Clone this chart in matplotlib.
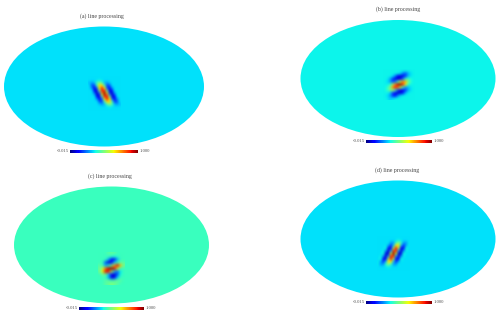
import matplotlib
matplotlib.use("Agg")
import matplotlib.pyplot as plt
from matplotlib.cm import ScalarMappable
from matplotlib.colors import Normalize
from matplotlib.patches import Ellipse

W, H = 501, 322

titles = ["(a) line processing", "(b) line processing",
          "(c) line processing", "(d) line processing"]
low_label = "-0.015"
high_label = "1.000"

# background level of each sky map, on the 0-1 colour scale
background = [0.345, 0.365, 0.42, 0.345]

# sampled values around the wavelet, rows run top to bottom
map_a = [
    [.345, .345, .345, .345, .345, .345, .345, .345, .345, .345, .345, .345, .345],
    [.345, .34, .34, .35, .36, .35, .34, .34, .345, .345, .345, .345, .345],
    [.32, .28, .31, .43, .51, .43, .31, .28, .32, .345, .345, .345, .345],
    [.345, .21, .19, .42, .68, .68, .42, .19, .21, .345, .345, .345, .345],
    [.345, .26, .11, .22, .65, .90, .65, .22, .11, .26, .345, .345, .345],
    [.345, .345, .13, .09, .47, .89, .89, .47, .09, .13, .345, .345, .345],
    [.345, .345, .25, .07, .20, .70, 1.0, .70, .20, .07, .25, .345, .345],
    [.345, .345, .345, .13, .09, .47, .89, .89, .47, .09, .13, .345, .345],
    [.345, .345, .345, .26, .11, .22, .65, .90, .65, .22, .11, .26, .345],
    [.345, .345, .345, .345, .21, .19, .42, .68, .68, .42, .19, .21, .345],
    [.345, .345, .345, .345, .32, .28, .31, .43, .51, .43, .31, .28, .32],
    [.345, .345, .345, .345, .345, .34, .34, .35, .36, .35, .34, .34, .345],
    [.345, .345, .345, .345, .345, .345, .345, .345, .345, .345, .345, .345, .345],
]
map_b = [
    [.365, .365, .365, .365, .365, .365, .365, .365, .365, .365, .365, .365],
    [.365, .365, .365, .365, .365, .365, .34, .25, .215, .30, .35, .365],
    [.365, .365, .365, .35, .26, .125, .075, .10, .19, .31, .355, .365],
    [.365, .36, .31, .19, .10, .075, .105, .25, .41, .425, .375, .365],
    [.365, .35, .30, .21, .24, .42, .595, .77, .72, .50, .395, .365],
    [.365, .36, .38, .51, .75, .94, .99, .87, .61, .41, .37, .365],
    [.365, .39, .49, .75, .89, .79, .595, .40, .27, .31, .355, .365],
    [.365, .40, .47, .52, .43, .22, .105, .105, .18, .30, .35, .365],
    [.365, .365, .34, .21, .11, .065, .075, .16, .31, .36, .365, .365],
    [.365, .35, .30, .19, .14, .25, .34, .365, .365, .365, .365, .365],
    [.365, .36, .33, .34, .36, .365, .365, .365, .365, .365, .365, .365],
]
map_c = [
    [.42, .42, .42, .45, .46, .45, .42, .42, .42],
    [.42, .42, .42, .42, .40, .38, .41, .42, .42],
    [.42, .42, .42, .30, .12, .10, .30, .42, .42],
    [.42, .42, .20, .07, .12, .35, .42, .46, .45],
    [.45, .42, .30, .38, .50, .75, .92, .70, .48],
    [.46, .58, .78, .95, 1.0, .92, .60, .42, .42],
    [.46, .65, .92, .88, .55, .32, .22, .36, .42],
    [.42, .46, .48, .32, .12, .06, .20, .38, .42],
    [.42, .42, .42, .30, .08, .12, .33, .42, .42],
    [.42, .42, .45, .46, .42, .45, .47, .45, .42],
    [.42, .42, .45, .47, .50, .48, .45, .42, .42],
]
map_d = [
    [.345, .345, .345, .345, .345, .345, .345, .345, .345, .345, .345, .345, .345],
    [.345, .345, .345, .345, .345, .34, .34, .35, .365, .35, .34, .34, .345],
    [.345, .345, .345, .345, .355, .28, .28, .41, .51, .41, .28, .28, .355],
    [.345, .345, .345, .355, .29, .17, .32, .665, .665, .32, .17, .29, .355],
    [.345, .345, .345, .375, .13, .12, .56, .90, .56, .12, .13, .375, .345],
    [.345, .345, .36, .26, .07, .30, .86, .86, .30, .07, .26, .36, .345],
    [.345, .345, .38, .09, .08, .60, 1.0, .60, .08, .09, .38, .345, .345],
    [.345, .36, .26, .07, .30, .86, .86, .30, .07, .26, .36, .345, .345],
    [.345, .375, .13, .12, .56, .90, .56, .12, .13, .375, .345, .345, .345],
    [.355, .29, .17, .32, .665, .665, .32, .17, .29, .355, .345, .345, .345],
    [.355, .28, .28, .41, .51, .41, .28, .28, .355, .345, .345, .345, .345],
    [.345, .34, .34, .35, .365, .35, .34, .34, .345, .345, .345, .345, .345],
    [.345, .345, .345, .345, .345, .345, .345, .345, .345, .345, .345, .345, .345],
]
maps = [map_a, map_b, map_c, map_d]

# layout in pixels: ellipse centre and radii, wavelet window, colour bar, title
ellipses = [(104, 86.5, 100, 60), (398, 78.5, 97.5, 58.5),
            (111.5, 245, 97.5, 58.5), (398, 239, 97.5, 58.5)]
windows = [(89, 119, 78, 110), (384, 413, 71, 99),
           (100, 124, 254, 284), (378, 408, 238, 270)]
cbars = [(70, 138, 151), (366, 432, 141), (79, 144, 308), (366, 432, 302)]
title_pos = [(102, 16), (398, 9.5), (110, 176), (397, 170)]

norm = Normalize(0, 1)
cmap = plt.get_cmap("jet")
plt.rcParams["font.family"] = ["Liberation Serif", "DejaVu Serif"]

fig = plt.figure(figsize=(W / 100, H / 100), dpi=100)
ax = fig.add_axes([0, 0, 1, 1])

for i in range(4):
    cx, cy, rx, ry = ellipses[i]
    ax.add_patch(Ellipse((cx, cy), 2 * rx, 2 * ry, fc=cmap(norm(background[i])),
                         ec="none", zorder=1))

    x0, x1, y0, y1 = windows[i]
    rows = maps[i]
    dx = (x1 - x0) / (len(rows[0]) - 1) / 2
    dy = (y1 - y0) / (len(rows) - 1) / 2
    ax.imshow(rows, cmap=cmap, norm=norm, interpolation="bicubic", aspect="auto",
              extent=(x0 - dx, x1 + dx, y1 + dy, y0 - dy), zorder=2)

    tx, ty = title_pos[i]
    ax.text(tx, ty, titles[i], fontsize=4.2, color="#444444", ha="center", va="center")

    bx0, bx1, by = cbars[i]
    ax.text(bx0 - 1.5, by, low_label, fontsize=3.4, color="#555555", ha="right", va="center")
    ax.text(bx1 + 1.5, by, high_label, fontsize=3.4, color="#555555", ha="left", va="center")
    cax = fig.add_axes([bx0 / W, 1 - (by + 1.5) / H, (bx1 - bx0) / W, 3 / H])
    cb = fig.colorbar(ScalarMappable(norm=norm, cmap=cmap), cax=cax, orientation="horizontal")
    cb.set_ticks([])
    cb.outline.set_visible(False)

ax.set_xlim(0, W)
ax.set_ylim(H, 0)
ax.axis("off")

fig.savefig("out.png", dpi=100)
